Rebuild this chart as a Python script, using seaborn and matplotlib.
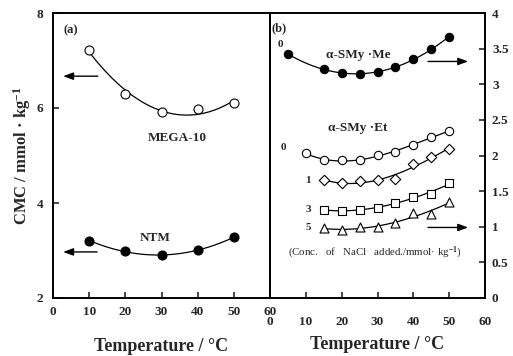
import numpy as np
import pandas as pd
import matplotlib
matplotlib.use("Agg")
import matplotlib.pyplot as plt
import seaborn as sns

sns.set_style("ticks")
plt.rcParams['font.family'] = ['Liberation Serif', 'DejaVu Serif']
plt.rcParams['font.weight'] = 'bold'
plt.rcParams['axes.labelweight'] = 'bold'
plt.rcParams['mathtext.fontset'] = 'custom'
plt.rcParams['mathtext.rm'] = 'Liberation Serif:bold'
plt.rcParams['mathtext.it'] = 'Liberation Serif:bold'
plt.rcParams['mathtext.bf'] = 'Liberation Serif:bold'
plt.rcParams['mathtext.default'] = 'rm'

# ---- data: panel (a) ----
temp_a = [10, 20, 30, 40, 50]
mega10 = [7.22, 6.30, 5.92, 5.97, 6.11]
ntm = [3.21, 2.98, 2.90, 3.01, 3.28]

# ---- data: panel (b) ----
temp_me = [5, 15, 20, 25, 30, 35, 40, 45, 50]
smy_me = [3.42, 3.22, 3.16, 3.14, 3.17, 3.24, 3.35, 3.49, 3.67]

temp_et0 = [10, 15, 20, 25, 30, 35, 40, 45, 50]
smy_et0 = [2.03, 1.94, 1.93, 1.93, 2.01, 2.05, 2.15, 2.26, 2.34]

temp_et = [15, 20, 25, 30, 35, 40, 45, 50]
smy_et1 = [1.65, 1.62, 1.64, 1.65, 1.67, 1.88, 1.98, 2.09]
smy_et3 = [1.24, 1.22, 1.23, 1.27, 1.34, 1.42, 1.46, 1.61]
smy_et5 = [0.98, 0.95, 0.99, 1.00, 1.05, 1.19, 1.18, 1.35]

xticks = [0, 10, 20, 30, 40, 50, 60]
yticks_a = [2, 4, 6, 8]
yticks_b = [0, 0.5, 1, 1.5, 2, 2.5, 3, 3.5, 4]
ytick_labels_b = ['0', '0.5', '1', '1.5', '2', '2.5', '3', '3.5', '4']

W, H = 513, 356
fig = plt.figure(figsize=(W / 100, H / 100), dpi=100)
axA = fig.add_axes([53 / W, (H - 298) / H, 217 / W, 285 / H])
axB = fig.add_axes([270 / W, (H - 298) / H, 215 / W, 285 / H])

LW = 0.9


def series(ax, x, y, marker, face, size, order):
    df = pd.DataFrame({'x': x, 'y': y})
    sns.regplot(data=df, x='x', y='y', order=order, ci=None, scatter=False,
                truncate=True, ax=ax, line_kws=dict(color='black', lw=LW, zorder=2))
    sns.scatterplot(data=df, x='x', y='y', marker=marker, s=size, ax=ax,
                    color=face, edgecolor='black', linewidth=0.8, zorder=3, legend=False)


# panel (a)
series(axA, temp_a, mega10, 'o', 'white', 42, 2)
series(axA, temp_a, ntm, 'o', 'black', 42, 2)

# panel (b)
series(axB, temp_me, smy_me, 'o', 'black', 36, 2)
series(axB, temp_et0, smy_et0, 'o', 'white', 36, 3)
series(axB, temp_et, smy_et1, 'D', 'white', 28, 3)
series(axB, temp_et, smy_et3, 's', 'white', 30, 3)
series(axB, temp_et, smy_et5, '^', 'white', 42, 3)

for ax in (axA, axB):
    ax.set_xlim(0, 60)
    ax.set_xticks(xticks)
    ax.set_xticklabels([str(t) for t in xticks])
    for sp in ax.spines.values():
        sp.set_visible(True)
        sp.set_linewidth(1.4)
        sp.set_color('black')

axA.set_ylim(2, 8)
axA.set_yticks(yticks_a)
axA.set_yticklabels([str(t) for t in yticks_a])
axA.tick_params(axis='both', direction='in', length=4, width=1.2, labelsize=9.5)
axA.tick_params(axis='x', pad=6)
axA.tick_params(axis='y', pad=7, right=False)

axB.set_ylim(0, 4)
axB.set_yticks(yticks_b)
axB.set_yticklabels(ytick_labels_b)
axB.yaxis.tick_right()
axB.yaxis.set_label_position('right')
axB.tick_params(axis='both', direction='in', length=4, width=1.2, labelsize=9.5)
axB.tick_params(axis='x', pad=13)
axB.tick_params(axis='y', pad=5, left=False)

axA.set_xlabel('Temperature / °C', fontsize=13)
axB.set_xlabel('Temperature / °C', fontsize=13)
axA.xaxis.set_label_coords(0.5, -0.14)
axB.xaxis.set_label_coords(0.5, -0.135)
axA.set_ylabel('CMC / mmol · kg$^{-1}$', fontsize=12)
axA.yaxis.set_label_coords(-0.09, 0.5)
axB.set_ylabel('')

arrow = dict(arrowstyle='-|>,head_length=0.6,head_width=0.22', color='black', lw=1.0,
             shrinkA=0, shrinkB=0)
# panel (a) annotations
axA.text(2.8, 7.64, '(a)', fontsize=9, ha='left', va='center')
axA.text(34.3, 5.37, 'MEGA-10', fontsize=9.5, ha='center', va='center')
axA.text(28.2, 3.27, 'NTM', fontsize=9.5, ha='center', va='center')
axA.annotate('', xy=(2.8, 6.67), xytext=(12.4, 6.67), arrowprops=arrow)
axA.annotate('', xy=(2.8, 2.97), xytext=(12.2, 2.97), arrowprops=arrow)

# panel (b) annotations
axB.text(0.5, 3.79, '(b)', fontsize=9, ha='left', va='center')
axB.text(2.8, 3.56, '0', fontsize=8, ha='center', va='center')
axB.text(24.6, 3.41, 'α-SMy ·Me', fontsize=9.5, ha='center', va='center')
axB.text(24.6, 2.39, 'α-SMy ·Et', fontsize=9.5, ha='center', va='center')
axB.text(3.6, 2.11, '0', fontsize=8, ha='center', va='center')
axB.text(10.6, 1.65, '1', fontsize=8, ha='center', va='center')
axB.text(10.6, 1.24, '3', fontsize=8, ha='center', va='center')
axB.text(10.6, 0.99, '5', fontsize=8, ha='center', va='center')
axB.text(29.3, 0.63, '(Conc.   of   NaCl   added./mmol· kg$^{-1}$)', fontsize=7.8,
         ha='center', va='center', fontweight='normal')
axB.annotate('', xy=(55.3, 3.32), xytext=(44.1, 3.32), arrowprops=arrow)
axB.annotate('', xy=(55.3, 0.99), xytext=(44.1, 0.99), arrowprops=arrow)

fig.savefig('out.png', dpi=100)
